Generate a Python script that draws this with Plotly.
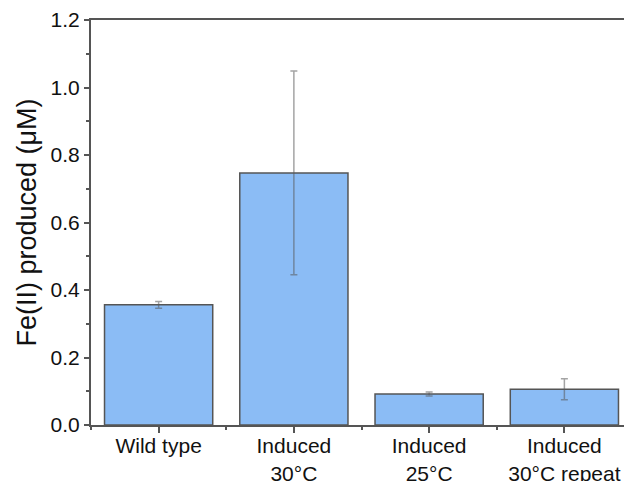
import plotly.graph_objects as go

categories = ["Wild type", "Induced<br>30°C", "Induced<br>25°C", "Induced<br>30°C repeat"]
values = [0.356, 0.747, 0.092, 0.106]
errors = [0.010, 0.302, 0.006, 0.031]
y_ticks = [0.0, 0.2, 0.4, 0.6, 0.8, 1.0, 1.2]

positions = list(range(len(categories)))

fig = go.Figure()
fig.add_trace(go.Bar(
    x=positions, y=values, width=0.8,
    marker=dict(color="#8bbcf5", line=dict(color="#555555", width=1.5)),
    error_y=dict(type="data", array=errors, visible=True,
                 color="rgba(90,90,90,0.55)", thickness=1.5, width=3.5),
))

# page body adds an 8px offset, so the figure is sized to fill the rest of the window
fig.update_layout(
    width=624, height=473,
    margin=dict(l=83, r=0, t=12, b=56),
    paper_bgcolor="white", plot_bgcolor="white",
    showlegend=False,
    font=dict(family="Liberation Sans, Arial, sans-serif", color="#111111"),
    xaxis=dict(
        range=[-0.5, 3.5], automargin=False,
        tickmode="array", tickvals=positions, ticktext=categories,
        ticks="outside", ticklen=6, tickcolor="#555555", tickwidth=1.5,
        ticklabelstandoff=-5,
        showline=True, linecolor="#555555", linewidth=2, mirror=True,
        showgrid=False, zeroline=False,
        tickfont=dict(size=21),
        minor=dict(tickmode="linear", tick0=-0.5, dtick=1, ticks="outside",
                   ticklen=3, tickcolor="#555555", showgrid=False),
    ),
    yaxis=dict(
        range=[0, 1.2], automargin=False,
        tickmode="array", tickvals=y_ticks, ticktext=[f"{v:.1f}" for v in y_ticks],
        ticks="outside", ticklen=5, tickcolor="#555555", tickwidth=1.5,
        showline=True, linecolor="#555555", linewidth=2,
        showgrid=False, zeroline=False,
        tickfont=dict(size=21),
        title=dict(text="Fe(II) produced (μM)", font=dict(size=27), standoff=6),
        minor=dict(tickmode="linear", tick0=0.1, dtick=0.2, ticks="outside",
                   ticklen=3, tickcolor="#555555", showgrid=False),
    ),
)

fig.write_html("out.html")
